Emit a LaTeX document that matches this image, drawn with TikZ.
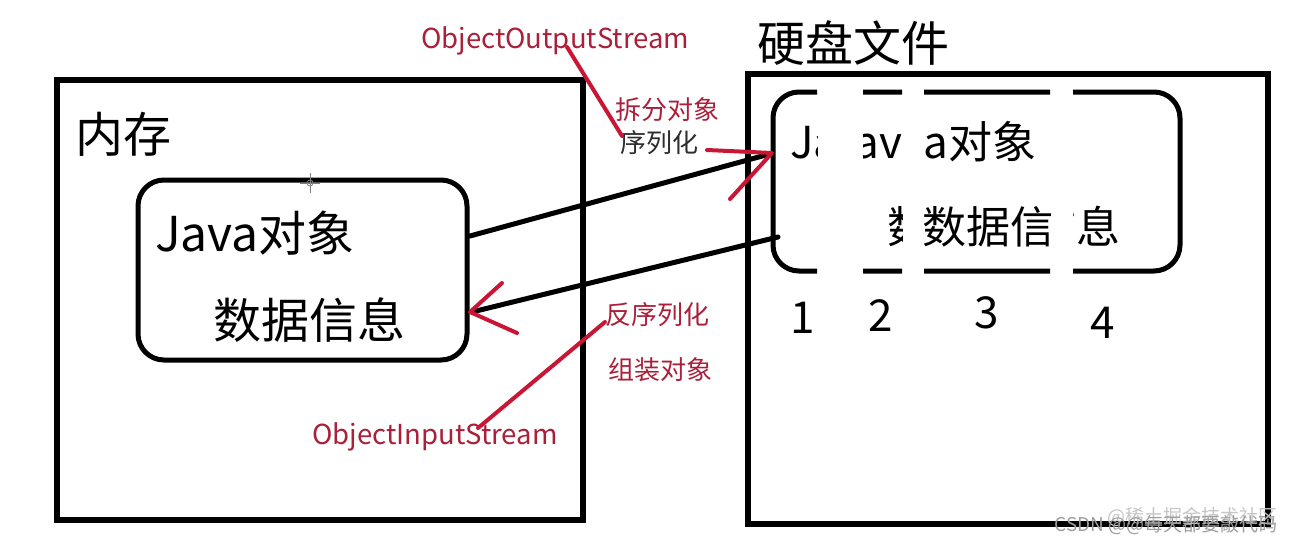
\documentclass[tikz,border=0pt]{standalone}
\usepackage{fontspec}
\setmainfont{Noto Sans CJK SC}
\definecolor{lred}{RGB}{200,22,52}
\definecolor{tred}{RGB}{170,32,58}
\definecolor{tgray}{RGB}{45,45,45}
\newlength\wJav
\newlength\wSJX
\AtBeginDocument{%
  \settowidth\wJav{\fontsize{44}{46}\selectfont Jav}%
  \settowidth\wSJX{\fontsize{44}{46}\selectfont 数据信}%
}
\begin{document}
\begin{tikzpicture}[x=1pt,y=-1pt,
  outerbox/.style={draw=black, line width=6pt, inner sep=0pt},
  inbox/.style={draw=black, line width=5pt, rounded corners=26pt, inner sep=0pt},
  conn/.style={draw=black, line width=5pt, line cap=round},
  redl/.style={draw=lred, line width=4pt, line cap=round, line join=round},
  big/.style={font=\fontsize{48}{50}\selectfont, inner sep=0pt, anchor=base west},
  mid/.style={font=\fontsize{44}{46}\selectfont, inner sep=0pt, anchor=base west},
  num/.style={font=\fontsize{44}{46}\selectfont, inner sep=0pt, anchor=base},
  lab/.style={font=\fontsize{26}{28}\selectfont, text=tred, inner sep=0pt, anchor=base west},
  stream/.style={font=\fontsize{27.5}{29}\selectfont, text=tred, inner sep=0pt, anchor=base west},
  wm/.style={font=\fontsize{19}{20}\selectfont, inner sep=0pt, anchor=base east}]
\useasboundingbox (0,0) rectangle (1291,546);
\fill[white] (0,0) rectangle (1291,546);
\pgfmathsetmacro\xStwo{902-\wJav}
\pgfmathsetmacro\xSthree{924-\wJav}
\pgfmathsetmacro\xSfour{1076-\wSJX}

% outer boxes
\node[outerbox, minimum width=526pt, minimum height=440pt] (mem) at (320,300) {};
\node[outerbox, minimum width=520pt, minimum height=450pt] (disk) at (1008,299) {};
\node[big, anchor=base west] (memt) at (75,152) {内存};
\node[big, anchor=base west] (diskt) at (757,61) {硬盘文件};

% inner left object
\node[inbox, minimum width=329pt, minimum height=180pt] (obj) at (302.5,270) {};
\node[big] (objA) at (155,251) {Java对象};
\node[big] (objB) at (213,338) {数据信息};

% cursor mark
\draw[gray, line width=0.8pt] (300,183) -- (320,183) (310,173) -- (310,193);
\draw[gray, line width=0.8pt] (310,183) circle (3);

% right split object
\coordinate (rb1) at (773,92);
\coordinate (rb2) at (1180,271);
\begin{scope}
  \clip (755,80) rectangle (817,290);
  \draw[inbox] (rb1) rectangle (rb2);
  \node[mid] (s1a) at (790,158) {Java对象};
\end{scope}
\begin{scope}
  \clip (863,80) rectangle (902,290);
  \draw[inbox] (rb1) rectangle (rb2);
  \node[mid] (s2a) at (\xStwo,158) {Java对象};
  \node[mid] (s2b) at (887,243) {数据信息};
\end{scope}
\begin{scope}
  \clip (924,80) rectangle (1050,290);
  \draw[inbox] (rb1) rectangle (rb2);
  \node[mid] (s3a) at (\xSthree,158) {Java对象};
  \node[mid] (s3b) at (922,243) {数据信息};
\end{scope}
\begin{scope}
  \clip (1073,80) rectangle (1200,290);
  \draw[inbox] (rb1) rectangle (rb2);
  \node[mid] (s4b) at (\xSfour,243) {数据信息};
\end{scope}
\node[num] (n1) at (803,333) {1};
\node[num] (n2) at (881,331) {2};
\node[num] (n3) at (987,328) {3};
\node[num] (n4) at (1103,338) {4};

% connectors
\coordinate (ser0) at (470,236);
\coordinate (ser1) at (766,155);
\coordinate (des0) at (778,237);
\coordinate (des1) at (472,312);
\draw[conn] (ser0) -- (ser1);
\draw[conn] (des0) -- (des1);
\coordinate (h1a) at (707,150);
\coordinate (h1t) at (772,153);
\coordinate (h1b) at (730,199);
\draw[redl] (h1a) -- (h1t) -- (h1b);
\coordinate (h2a) at (502,283);
\coordinate (h2t) at (470,312);
\coordinate (h2b) at (517,333);
\draw[redl] (h2a) -- (h2t) -- (h2b);

% labels
\node[stream] (oos) at (421,48) {ObjectOutputStream};
\node[lab] (chai) at (615,119) {拆分对象};
\node[lab, text=tgray] (xlh) at (620,152) {序列化};
\node[lab] (fxl) at (605,324) {反序列化};
\node[lab] (zz) at (608,379) {组装对象};
\node[stream] (ois) at (312,444) {ObjectInputStream};
\coordinate (c1a) at (567,47);
\coordinate (c1b) at (622,136);
\coordinate (c2a) at (605,322);
\coordinate (c2b) at (478,428);
\draw[redl] (c1a) -- (c1b);
\draw[redl] (c2a) -- (c2b);

% watermark
\node[wm, text=gray!45] (wm2) at (1278,523) {@稀土掘金技术社区};
\node[wm, text=gray!75] (wm1) at (1278,531) {CSDN @@每天都要敲代码};
\end{tikzpicture}
\end{document}
